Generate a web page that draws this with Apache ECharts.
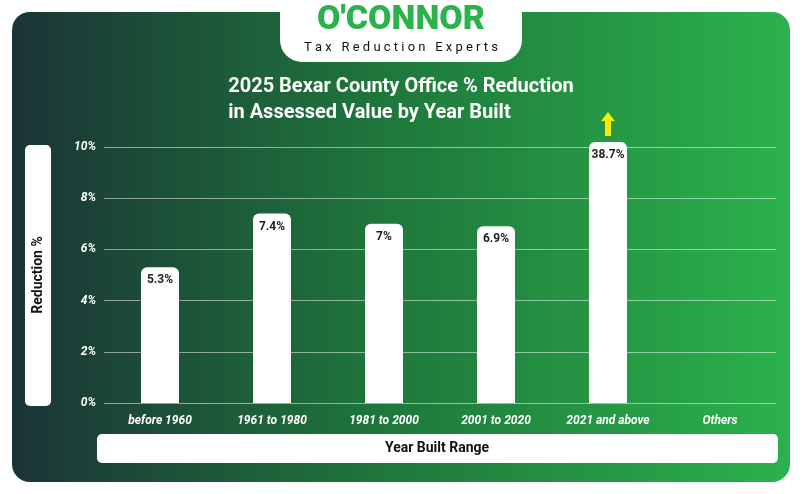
<!DOCTYPE html><html><head><meta charset="utf-8"><script src="https://cdn.jsdelivr.net/npm/echarts@6/dist/echarts.min.js"></script>
<style>html,body{margin:0;background:#fff}#c{width:802px;height:494px}</style></head><body><div id="c"></div><script>
const categories=['before 1960','1961 to 1980','1981 to 2000','2001 to 2020','2021 and above','Others'];
const values=[5.3,7.4,7,6.9,38.7,null];
const yTicks=[0,2,4,6,8,10];
const AXIS_MAX=10.2;
const chart=echarts.init(document.getElementById('c'));
chart.setOption({
 graphic:[
  {type:'rect',shape:{x:12,y:12,width:778,height:470,r:18},style:{fill:new echarts.graphic.LinearGradient(0,0,1,0,[{offset:0,color:'#1b3436'},{offset:0.5,color:'#1f7a3c'},{offset:1,color:'#2bb24c'}])},z:-10},
  {type:'rect',shape:{x:280,y:0,width:242,height:62,r:[0,0,22,22]},style:{fill:'#fff'},z:-5},
  {type:'text',left:'center',top:3,style:{text:"O'CONNOR",font:'900 34px Roboto',fill:'#2bb24c'}},
  {type:'text',left:'center',top:41,style:{text:'T a x   R e d u c t i o n   E x p e r t s',font:'13px Roboto',fill:'#111'}},
  {type:'text',left:'center',top:74,style:{text:'2025 Bexar County Office % Reduction\nin Assessed Value by Year Built',font:'bold 20px Roboto',fill:'#fff',align:'center',lineHeight:26}},
  {type:'rect',shape:{x:25,y:145,width:26,height:261,r:5},style:{fill:'#fff'}},
  {type:'text',x:38,y:275,rotation:Math.PI/2,style:{text:'Reduction %',font:'bold 14px Roboto',fill:'#111',align:'center',verticalAlign:'middle'}},
  {type:'rect',shape:{x:97,y:434,width:681,height:29,r:5},style:{fill:'#fff'}},
  {type:'text',x:437,y:448,style:{text:'Year Built Range',font:'bold 14px Roboto',fill:'#111',align:'center',verticalAlign:'middle'}},
  {type:'image',style:{image:'data:image/svg+xml;utf8,'+encodeURIComponent('<svg xmlns="http://www.w3.org/2000/svg" width="14" height="24"><polygon points="7,0 14,9 10,9 10,24 4,24 4,9 0,9" fill="#f4ee00"/></svg>'),x:601,y:112,width:14,height:24}}
 ],
 grid:{left:104,right:26,top:147,bottom:91},
 xAxis:{type:'category',data:categories,axisLine:{show:false},axisTick:{show:false},
  axisLabel:{color:'#fff',fontStyle:'italic',fontWeight:'bold',fontSize:12,margin:12,fontFamily:'Roboto'}},
 yAxis:{type:'value',min:0,max:10,interval:2,
  axisLabel:{color:'#fff',fontStyle:'italic',fontWeight:'bold',fontSize:12,formatter:v=>yTicks.includes(v)?v+'%':'',fontFamily:'Roboto'},
  splitLine:{lineStyle:{color:'rgba(255,255,255,0.5)'}}},
 series:[{type:'bar',barWidth:38,clip:false,
  data:values.map(v=>v==null?null:{value:Math.min(v,AXIS_MAX),real:v}),
  itemStyle:{color:'#fff',borderRadius:[6,6,0,0]},
  label:{show:true,position:'insideTop',distance:7,color:'#222',fontWeight:'bold',fontSize:12,fontFamily:'Roboto',
   formatter:p=>p.data.real+'%'}}]
});
</script></body></html>
